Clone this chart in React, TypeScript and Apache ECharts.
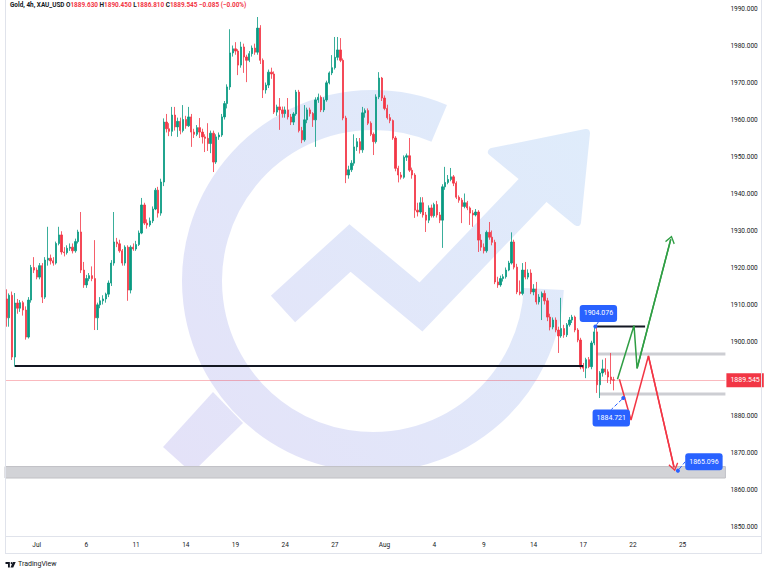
import React, { useEffect, useRef } from 'react';
import * as echarts from 'echarts';

const FONT = 'Roboto, "Liberation Sans", sans-serif';
const symbolTitle = 'Gold, 4h, XAU_USD';

// [open, close, low, high] per 4h bar
const candles: number[][] = [
  [1911.5, 1906.4, 1904.0, 1914.1], [1906.4, 1912.5, 1904.0, 1913.0], [1912.5, 1895.8, 1895.0, 1913.5], [1895.8, 1910.4, 1893.2, 1913.1],
  [1910.4, 1909.0, 1907.5, 1911.5], [1909.0, 1910.5, 1908.0, 1911.2], [1910.5, 1908.5, 1907.0, 1911.0], [1908.5, 1901.2, 1900.5, 1909.5],
  [1901.2, 1911.2, 1900.8, 1912.0], [1911.2, 1920.0, 1910.5, 1920.7], [1920.0, 1919.3, 1918.5, 1922.8], [1919.3, 1917.4, 1916.8, 1920.0],
  [1917.4, 1920.5, 1916.8, 1921.2], [1920.5, 1912.0, 1910.4, 1921.2], [1912.0, 1922.0, 1911.5, 1922.8], [1922.0, 1922.5, 1920.5, 1931.0],
  [1922.5, 1921.8, 1920.8, 1923.5], [1921.8, 1921.2, 1920.5, 1922.8], [1921.2, 1926.5, 1920.8, 1927.0], [1926.5, 1928.8, 1926.0, 1931.0],
  [1928.8, 1924.2, 1923.5, 1929.8], [1924.2, 1924.0, 1923.0, 1925.5], [1924.0, 1925.2, 1923.5, 1926.0], [1925.2, 1925.5, 1924.5, 1926.5],
  [1925.5, 1924.5, 1923.8, 1926.5], [1924.5, 1927.0, 1924.0, 1927.8], [1927.0, 1929.6, 1926.5, 1930.2], [1929.6, 1919.3, 1918.5, 1935.0],
  [1919.3, 1915.3, 1914.5, 1921.5], [1915.3, 1917.0, 1914.5, 1918.0], [1917.0, 1917.8, 1916.3, 1918.5], [1917.8, 1917.0, 1916.3, 1920.3],
  [1917.0, 1906.4, 1903.1, 1927.4], [1906.4, 1909.9, 1903.1, 1910.5], [1909.9, 1911.0, 1909.0, 1912.0], [1911.0, 1911.5, 1910.0, 1912.5],
  [1911.5, 1912.8, 1910.5, 1913.2], [1912.8, 1915.8, 1912.0, 1916.5], [1915.8, 1921.2, 1915.0, 1922.0], [1921.2, 1926.9, 1920.5, 1935.0],
  [1926.9, 1926.4, 1925.5, 1928.0], [1926.4, 1924.5, 1924.0, 1927.5], [1924.5, 1921.2, 1920.5, 1925.0], [1921.2, 1925.5, 1920.5, 1926.0],
  [1925.5, 1913.9, 1911.0, 1926.0], [1913.9, 1925.5, 1913.0, 1926.0], [1925.5, 1925.0, 1924.5, 1926.5], [1925.0, 1926.2, 1924.5, 1927.2],
  [1926.2, 1929.3, 1925.8, 1930.0], [1929.3, 1936.9, 1929.0, 1938.8], [1936.9, 1932.0, 1931.5, 1937.5], [1932.0, 1931.5, 1930.5, 1933.0],
  [1931.5, 1932.6, 1931.0, 1933.5], [1932.6, 1935.8, 1932.0, 1936.5], [1935.8, 1940.9, 1935.5, 1941.5], [1940.9, 1934.7, 1933.5, 1941.8],
  [1934.7, 1943.1, 1934.0, 1944.0], [1943.1, 1959.3, 1942.0, 1960.3], [1959.3, 1957.5, 1956.5, 1961.5], [1957.5, 1956.8, 1955.5, 1959.0],
  [1956.8, 1961.2, 1955.5, 1963.4], [1961.2, 1958.0, 1957.0, 1963.4], [1958.0, 1959.5, 1955.3, 1960.5], [1959.5, 1957.0, 1956.0, 1960.5],
  [1957.0, 1960.0, 1956.5, 1963.9], [1960.0, 1958.3, 1957.5, 1961.0], [1958.3, 1960.7, 1958.0, 1963.4], [1960.7, 1956.6, 1952.6, 1961.5],
  [1956.6, 1956.0, 1955.0, 1957.5], [1956.0, 1957.8, 1955.5, 1958.5], [1957.8, 1956.6, 1955.0, 1960.4], [1956.6, 1955.3, 1953.5, 1957.5],
  [1955.3, 1954.9, 1951.2, 1956.0], [1954.9, 1953.5, 1951.5, 1959.0], [1953.5, 1956.3, 1950.9, 1957.0], [1956.3, 1948.5, 1945.8, 1957.0],
  [1948.5, 1955.3, 1948.0, 1956.0], [1955.3, 1955.8, 1954.5, 1956.5], [1955.8, 1960.7, 1955.3, 1961.5], [1960.7, 1964.3, 1960.0, 1965.0],
  [1964.3, 1968.8, 1963.0, 1969.5], [1968.8, 1978.0, 1968.0, 1984.4], [1978.0, 1979.1, 1977.0, 1980.0], [1979.1, 1978.5, 1977.5, 1980.9],
  [1978.5, 1974.7, 1972.0, 1979.0], [1974.7, 1979.6, 1974.0, 1981.0], [1979.6, 1976.9, 1972.6, 1980.5], [1976.9, 1976.0, 1970.1, 1977.5],
  [1976.0, 1977.8, 1975.5, 1978.5], [1977.8, 1979.3, 1977.0, 1980.0], [1979.3, 1978.2, 1977.5, 1980.5], [1978.2, 1984.7, 1977.5, 1987.7],
  [1984.7, 1976.0, 1975.0, 1985.5], [1976.0, 1968.0, 1965.8, 1976.5], [1968.0, 1969.3, 1967.0, 1970.0], [1969.3, 1972.8, 1968.5, 1973.5],
  [1972.8, 1972.3, 1971.0, 1974.0], [1972.3, 1962.0, 1961.5, 1973.0], [1962.0, 1963.4, 1961.0, 1964.0], [1963.4, 1962.6, 1957.2, 1965.8],
  [1962.6, 1961.6, 1960.5, 1963.5], [1961.6, 1962.6, 1960.5, 1963.5], [1962.6, 1960.7, 1960.0, 1965.8], [1960.7, 1959.3, 1958.5, 1961.5],
  [1959.3, 1961.5, 1958.5, 1962.0], [1961.5, 1967.4, 1961.0, 1968.0], [1967.4, 1957.0, 1956.5, 1968.0], [1957.0, 1954.5, 1953.6, 1958.0],
  [1954.5, 1959.9, 1954.0, 1963.9], [1959.9, 1962.6, 1959.0, 1963.2], [1962.6, 1961.6, 1960.8, 1963.2], [1961.6, 1959.9, 1958.0, 1962.0],
  [1959.9, 1965.3, 1952.6, 1966.0], [1965.3, 1966.0, 1964.5, 1967.0], [1966.0, 1962.6, 1962.0, 1966.5], [1962.6, 1965.3, 1962.0, 1966.0],
  [1965.3, 1969.9, 1964.8, 1970.5], [1969.9, 1972.6, 1969.5, 1973.0], [1972.6, 1974.0, 1972.0, 1977.4], [1974.0, 1976.8, 1973.5, 1982.3],
  [1976.8, 1978.8, 1976.0, 1982.3], [1978.8, 1976.0, 1975.5, 1982.0], [1976.0, 1960.4, 1959.8, 1976.5], [1960.4, 1945.0, 1942.8, 1961.0],
  [1945.0, 1946.4, 1944.0, 1947.5], [1946.4, 1948.2, 1945.8, 1949.0], [1948.2, 1952.6, 1947.5, 1956.0], [1952.6, 1954.0, 1951.5, 1955.0],
  [1954.0, 1951.8, 1950.8, 1955.0], [1951.8, 1961.8, 1951.0, 1963.4], [1961.8, 1962.4, 1960.5, 1963.0], [1962.4, 1959.0, 1958.5, 1963.0],
  [1959.0, 1956.0, 1955.5, 1959.5], [1956.0, 1954.0, 1950.4, 1956.5], [1954.0, 1966.1, 1953.5, 1966.8], [1966.1, 1971.2, 1965.5, 1972.8],
  [1971.2, 1965.8, 1965.0, 1971.5], [1965.8, 1963.0, 1962.5, 1966.5], [1963.0, 1960.5, 1960.0, 1964.0], [1960.5, 1959.7, 1959.0, 1961.5],
  [1959.7, 1955.0, 1954.5, 1960.0], [1955.0, 1946.8, 1946.0, 1955.5], [1946.8, 1945.0, 1943.0, 1947.5], [1945.0, 1944.4, 1943.8, 1945.8],
  [1944.4, 1949.8, 1944.0, 1950.3], [1949.8, 1950.2, 1948.8, 1950.8], [1950.2, 1946.3, 1945.8, 1955.0], [1946.3, 1945.0, 1944.0, 1947.0],
  [1945.0, 1935.5, 1933.4, 1945.5], [1935.5, 1935.0, 1933.8, 1937.5], [1935.0, 1937.5, 1934.5, 1939.0], [1937.5, 1934.2, 1933.5, 1939.0],
  [1934.2, 1932.8, 1929.6, 1935.0], [1932.8, 1936.1, 1932.0, 1936.8], [1936.1, 1934.0, 1933.5, 1937.0], [1934.0, 1937.0, 1933.5, 1937.5],
  [1937.0, 1934.2, 1933.5, 1938.0], [1934.2, 1932.8, 1932.0, 1935.0], [1932.8, 1941.8, 1925.3, 1942.5], [1941.8, 1943.0, 1941.0, 1947.2],
  [1943.0, 1943.8, 1942.5, 1945.0], [1943.8, 1944.5, 1943.3, 1946.9], [1944.5, 1942.8, 1942.0, 1945.0], [1942.8, 1939.0, 1938.5, 1943.3],
  [1939.0, 1938.2, 1937.5, 1939.5], [1938.2, 1936.5, 1932.0, 1938.8], [1936.5, 1937.5, 1936.0, 1940.0], [1937.5, 1936.1, 1935.5, 1938.0],
  [1936.1, 1934.7, 1931.5, 1936.5], [1934.7, 1934.2, 1931.0, 1935.5], [1934.2, 1935.0, 1933.8, 1935.8], [1935.0, 1927.4, 1924.2, 1935.5],
  [1927.4, 1925.5, 1924.5, 1929.0], [1925.5, 1924.5, 1923.8, 1926.5], [1924.5, 1929.5, 1924.0, 1930.0], [1929.5, 1928.2, 1927.5, 1932.3],
  [1928.2, 1926.8, 1926.0, 1930.0], [1926.8, 1916.1, 1915.5, 1927.5], [1916.1, 1915.3, 1914.5, 1917.5], [1915.3, 1917.0, 1914.8, 1917.8],
  [1917.0, 1917.5, 1916.2, 1918.2], [1917.5, 1919.3, 1917.0, 1920.0], [1919.3, 1921.2, 1919.0, 1921.8], [1921.2, 1926.9, 1920.8, 1929.5],
  [1926.9, 1920.1, 1919.5, 1927.5], [1920.1, 1913.4, 1912.8, 1921.0], [1913.4, 1913.0, 1912.5, 1916.5], [1913.0, 1919.3, 1912.5, 1921.2],
  [1919.3, 1917.4, 1916.8, 1921.5], [1917.4, 1918.5, 1916.8, 1919.5], [1918.5, 1913.4, 1912.8, 1919.5], [1913.4, 1914.2, 1912.5, 1915.5],
  [1914.2, 1910.7, 1910.0, 1916.1], [1910.7, 1912.0, 1910.0, 1912.8], [1912.0, 1913.0, 1905.8, 1913.5], [1913.0, 1911.0, 1910.0, 1913.8],
  [1911.0, 1906.6, 1905.5, 1911.8], [1906.6, 1903.9, 1903.0, 1907.5], [1903.9, 1905.8, 1903.3, 1906.5], [1905.8, 1903.1, 1902.5, 1906.5],
  [1903.1, 1901.5, 1896.9, 1904.0], [1901.5, 1903.5, 1901.0, 1911.8], [1903.5, 1901.8, 1901.0, 1904.5], [1901.8, 1904.5, 1901.2, 1905.0],
  [1904.5, 1905.8, 1904.0, 1906.6], [1905.8, 1906.6, 1905.0, 1907.2], [1906.6, 1903.1, 1902.5, 1907.0], [1903.1, 1900.4, 1899.8, 1903.6],
  [1900.4, 1893.1, 1892.5, 1901.0], [1893.1, 1892.8, 1891.8, 1894.2], [1892.8, 1895.1, 1890.1, 1895.6], [1895.1, 1893.2, 1892.8, 1895.8],
  [1893.2, 1899.6, 1892.5, 1900.2], [1899.6, 1902.6, 1899.0, 1903.9], [1902.6, 1888.3, 1886.1, 1904.076], [1888.3, 1891.5, 1884.721, 1892.0],
  [1891.5, 1892.6, 1890.5, 1895.1], [1892.6, 1891.8, 1891.0, 1895.5], [1891.8, 1890.4, 1888.8, 1892.5], [1890.4, 1889.63, 1888.5, 1896.9],
  [1889.63, 1889.545, 1886.81, 1890.45],
];

const tradingDays = [
  '06-29', '06-30', '07-03', '07-04', '07-05', '07-06', '07-07', '07-10', '07-11', '07-12', '07-13', '07-14',
  '07-17', '07-18', '07-19', '07-20', '07-21', '07-24', '07-25', '07-26', '07-27', '07-28', '07-31',
  '08-01', '08-02', '08-03', '08-04', '08-07', '08-08', '08-09', '08-10', '08-11', '08-14', '08-15', '08-16',
  '08-17', '08-18', '08-21', '08-22', '08-23', '08-24', '08-25', '08-28', '08-29',
];
const barHours = ['00', '04', '08', '12', '16', '20'];
const skippedFirstBars = 1;
const barCount = 261;

const tickDays = ['07-03', '07-06', '07-11', '07-14', '07-19', '07-24', '07-27', '08-01', '08-04', '08-09', '08-14', '08-17', '08-22', '08-25'];
const tickTexts = ['Jul', '6', '11', '14', '19', '24', '27', 'Aug', '4', '9', '14', '17', '22', '25'];

const priceMin = 1850;
const priceMax = 1990;
const priceStep = 10;

// annotations: [bar index, price]
const supportLine = [[3.1, 1893.4], [209.0, 1893.4]];
const resistanceLine = [[213.4, 1904.076], [231.4, 1904.076]];
const bullPath = [[221.4, 1889.8], [227.4, 1904.3], [228.5, 1892.75], [240.7, 1927.6]];
const bearPath = [[222.1, 1889.8], [226.3, 1878.8], [232.6, 1896.1], [241.9, 1866.0]];
const upperBand = [213.6, 1897.0, 1896.2];
const lowerBand = [214.7, 1886.2, 1885.4];
const targetZone = [1866.2, 1863.1];
const priceCallouts = [[213.4, 1904.076], [223.5, 1884.721], [243.3, 1865.096]];

export default function App() {
  const ref = useRef<HTMLDivElement>(null);

  useEffect(() => {
    if (!ref.current) return;
    const chart = echarts.init(ref.current, null, { renderer: 'svg' });

    const categories: string[] = [];
    tradingDays.forEach((d) => barHours.forEach((h) => categories.push(`${d} ${h}`)));
    const cats = categories.slice(skippedFirstBars, skippedFirstBars + barCount);
    const tickMap: Record<string, string> = {};
    tickDays.forEach((d, i) => { tickMap[`${d} ${barHours[0]}`] = tickTexts[i]; });

    const last = candles[candles.length - 1];
    const prev = candles[candles.length - 2];
    const chg = last[1] - prev[1];
    const pct = (chg / prev[1]) * 100;
    const sign = chg < 0 ? '\u2212' : '+';
    const f3 = (v: number) => v.toFixed(3);
    const header =
      `{d|${symbolTitle}} {d|O}{r|${f3(last[0])}} {d|H}{r|${f3(last[3])}} {d|L}{r|${f3(last[2])}} {d|C}{r|${f3(last[1])}} ` +
      `{r|${sign}${Math.abs(chg).toFixed(3)} (${sign}${Math.abs(pct).toFixed(2)}%)}`;

    const up = '#089981';
    const down = '#f23645';
    const green = '#2f9e44';
    const red = '#f23645';
    const blue = '#2962ff';
    const chevron = 'path://M0,0 L10,11 L8,12.6 L0,3.6 L-8,12.6 L-10,11 Z';

    const wm = () =>
      new echarts.graphic.LinearGradient(180, 470, 590, 130, [
        { offset: 0, color: '#e4e2f8' },
        { offset: 1, color: '#dfecfb' },
      ], true);

    echarts.graphic.registerShape('tvlogo', echarts.graphic.extendPath('M0 0H7V9H4V3.2H0Z M12 0H16.5L12.5 9H8Z', {}));

    const border = '#e0e3eb';
    const calloutOffsets = [[3, -13], [-12, 20], [26, -9]];

    const option: any = {
      animation: false,
      backgroundColor: '#ffffff',
      textStyle: { fontFamily: FONT },
      title: {
        left: 10,
        top: 2,
        padding: 0,
        text: header,
        textStyle: {
          fontSize: 6.4,
          rich: {
            d: { color: '#131722', fontSize: 6.4, fontFamily: FONT },
            r: { color: down, fontSize: 6.4, fontFamily: FONT },
          },
        },
      },
      grid: { left: 5, right: 42.6, top: 8.5, bottom: 49.5 },
      xAxis: [
        {
          type: 'category',
          data: cats,
          boundaryGap: true,
          axisLine: { show: false },
          axisTick: { show: false },
          splitLine: { show: false },
          axisLabel: {
            interval: (_i: number, v: string) => tickMap[v] !== undefined,
            formatter: (v: string) => tickMap[v] || '',
            fontSize: 6.5,
            color: '#131722',
            margin: 14.5,
            fontFamily: FONT,
          },
        },
        { type: 'value', min: -0.5, max: barCount - 0.5, show: false },
      ],
      yAxis: {
        type: 'value',
        position: 'right',
        min: priceMin,
        max: priceMax,
        interval: priceStep,
        axisLine: { show: false },
        axisTick: { show: false },
        splitLine: { show: false },
        axisLabel: {
          formatter: (v: number) => (Math.abs(v - last[1]) < priceStep / 2 ? '' : v.toFixed(3)),
          margin: 5,
          fontSize: 6.5,
          color: '#131722',
          fontFamily: FONT,
        },
      },
      graphic: [
        {
          type: 'arc', z: 0, silent: true,
          shape: { cx: 373, cy: 281, r: 171, startAngle: 0.047, endAngle: 5.11, clockwise: true },
          style: { stroke: wm(), lineWidth: 40, fill: null },
        },
        {
          type: 'polygon', z: 0, silent: true,
          shape: { points: [[163, 447], [192, 473], [243, 423], [213, 392]] },
          style: { fill: wm() },
        },
        {
          type: 'polyline', z: 0, silent: true,
          shape: { points: [[283, 309], [350, 248], [421, 307], [534, 189]] },
          style: { stroke: wm(), lineWidth: 36, lineJoin: 'miter', lineCap: 'butt', fill: null },
        },
        {
          type: 'polygon', z: 0, silent: true,
          shape: { points: [[492, 152], [586, 133], [577, 222]] },
          style: { fill: wm(), stroke: wm(), lineWidth: 8, lineJoin: 'round' },
        },
        { type: 'line', z: 10, silent: true, shape: { x1: 5.5, y1: 0, x2: 5.5, y2: 553 }, style: { stroke: border, lineWidth: 1 } },
        { type: 'line', z: 10, silent: true, shape: { x1: 761.5, y1: 0, x2: 761.5, y2: 553 }, style: { stroke: border, lineWidth: 1 } },
        { type: 'line', z: 10, silent: true, shape: { x1: 5, y1: 536.5, x2: 762, y2: 536.5 }, style: { stroke: border, lineWidth: 1 } },
        { type: 'line', z: 10, silent: true, shape: { x1: 5, y1: 553.5, x2: 762, y2: 553.5 }, style: { stroke: border, lineWidth: 1 } },
        { type: 'tvlogo', x: 5.5, y: 562, scaleX: 0.62, scaleY: 0.62, z: 10, silent: true, style: { fill: '#131722' } },
        { type: 'circle', z: 10, silent: true, shape: { cx: 11.6, cy: 563.1, r: 1.05 }, style: { fill: '#131722' } },
        {
          type: 'text', z: 10, silent: true, x: 18, y: 560.5,
          style: { text: 'TradingView', fill: '#131722', fontSize: 7, fontFamily: FONT },
        },
      ],
      series: [
        {
          type: 'candlestick',
          xAxisIndex: 0,
          yAxisIndex: 0,
          data: candles,
          barWidth: 1.8,
          z: 2,
          itemStyle: { color: up, color0: down, borderColor: up, borderColor0: down, borderWidth: 0.8 },
          markLine: {
            silent: true,
            symbol: ['none', 'none'],
            data: [{ yAxis: last[1] }],
            lineStyle: { color: 'rgba(242,54,69,0.35)', type: 'solid', width: 1 },
            label: {
              position: 'end',
              distance: 1,
              formatter: () => f3(last[1]),
              backgroundColor: down,
              color: '#ffffff',
              fontSize: 7,
              fontFamily: FONT,
              padding: [4, 4, 3, 4],
            },
          },
        },
        {
          type: 'line',
          xAxisIndex: 1,
          yAxisIndex: 0,
          data: supportLine,
          symbol: 'none',
          z: 3,
          lineStyle: { color: '#131722', width: 2 },
          markArea: {
            silent: true,
            data: [
              [
                { xAxis: upperBand[0], yAxis: upperBand[1], itemStyle: { color: '#cdced3' } },
                { xAxis: barCount - 0.5, yAxis: upperBand[2] },
              ],
              [
                { xAxis: lowerBand[0], yAxis: lowerBand[1], itemStyle: { color: '#cdced3' } },
                { xAxis: barCount - 0.5, yAxis: lowerBand[2] },
              ],
              [
                { xAxis: -0.5, yAxis: targetZone[0], itemStyle: { color: '#d2d3d7', borderColor: '#c0c1c6', borderWidth: 1 } },
                { xAxis: barCount - 0.5, yAxis: targetZone[1] },
              ],
            ],
          },
        },
        {
          type: 'line',
          xAxisIndex: 1,
          yAxisIndex: 0,
          data: resistanceLine,
          symbol: 'none',
          z: 3,
          lineStyle: { color: '#131722', width: 2 },
        },
        {
          type: 'line',
          xAxisIndex: 1,
          yAxisIndex: 0,
          data: bullPath,
          symbol: 'none',
          z: 4,
          lineStyle: { color: green, width: 1.5 },
          markLine: {
            silent: true,
            symbol: ['none', chevron],
            symbolSize: [10, 8],
            label: { show: false },
            lineStyle: { color: green, width: 1.5, type: 'solid' },
            itemStyle: { color: green },
            data: [[{ coord: bullPath[2] }, { coord: bullPath[3] }]],
          },
        },
        {
          type: 'line',
          xAxisIndex: 1,
          yAxisIndex: 0,
          data: bearPath,
          symbol: 'none',
          z: 4,
          lineStyle: { color: red, width: 1.5 },
          markLine: {
            silent: true,
            symbol: ['none', chevron],
            symbolSize: [10, 8],
            label: { show: false },
            lineStyle: { color: red, width: 1.5, type: 'solid' },
            itemStyle: { color: red },
            data: [[{ coord: bearPath[2] }, { coord: bearPath[3] }]],
          },
        },
        {
          type: 'scatter',
          xAxisIndex: 1,
          yAxisIndex: 0,
          data: priceCallouts,
          symbol: 'circle',
          symbolSize: 4,
          z: 6,
          itemStyle: { color: blue, opacity: 1 },
          label: {
            show: true,
            position: 'inside',
            formatter: (p: any) => Number(p.value[1]).toFixed(3),
            backgroundColor: blue,
            color: '#ffffff',
            opacity: 1,
            fontSize: 7,
            fontFamily: FONT,
            padding: [5, 4],
            borderRadius: 3,
          },
          labelLine: { show: true, lineStyle: { color: blue, type: 'dashed', width: 1, opacity: 1 } },
          labelLayout: (p: any) => ({ dx: calloutOffsets[p.dataIndex][0], dy: calloutOffsets[p.dataIndex][1] }),
        },
      ],
    };

    chart.setOption(option);
    return () => chart.dispose();
  }, []);

  return (
    <div
      ref={ref}
      style={{ position: 'fixed', left: 0, top: 0, width: 768, height: 576, background: '#ffffff' }}
    />
  );
}
